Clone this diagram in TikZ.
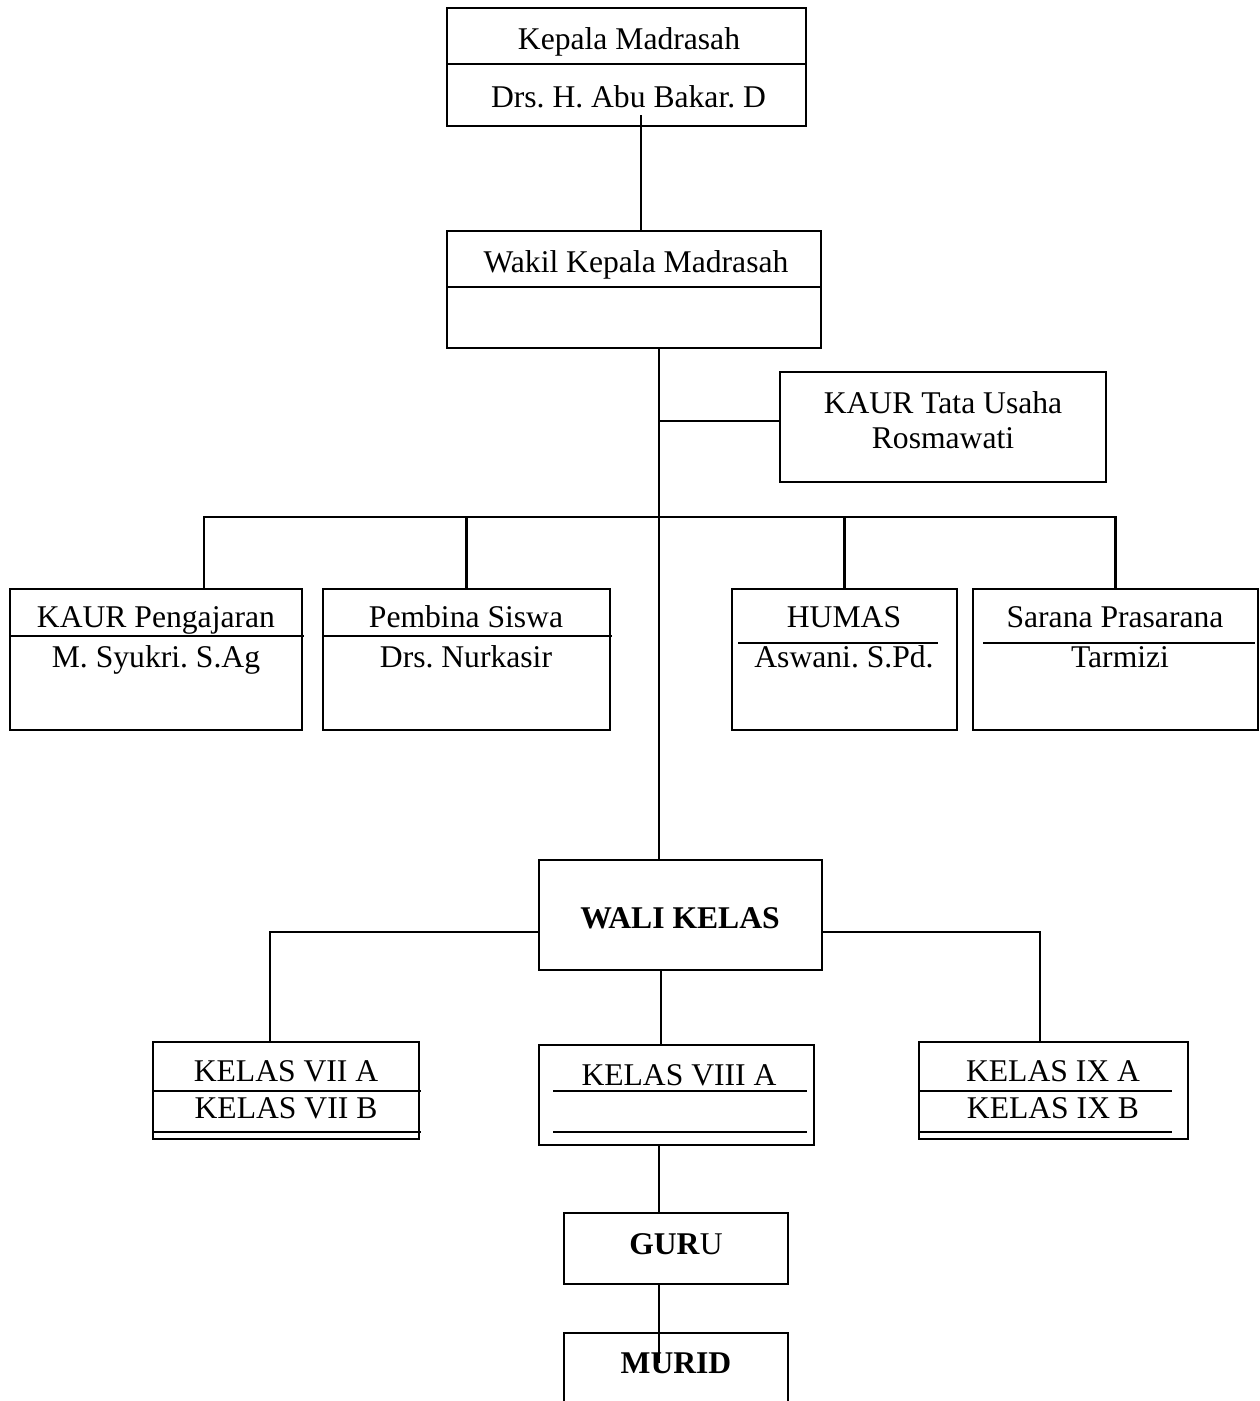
\documentclass[tikz,border=0pt]{standalone}
\usepackage{fontspec}
\setmainfont{Liberation Serif}
\frenchspacing
\usetikzlibrary{positioning, calc}
\tikzset{
  kotak/.style={draw, line width=1.2pt, inner sep=0pt, outer sep=0pt, rectangle},
  teks/.style={anchor=base, inner sep=0pt, font=\fontsize{18}{21}\selectfont},
  tebal/.style={teks, font=\fontsize{18}{21}\selectfont\bfseries},
  garis/.style={line width=1.2pt},
}
\begin{document}
\begin{tikzpicture}[x=0.02cm, y=-0.02cm]
  \useasboundingbox (0,0) rectangle (1259,1401);
  \coordinate (trunk) at (659,0);

  % kotak
  \node[kotak, minimum width=7.18cm, minimum height=2.36cm] (kepala) at (626.5,67) {};
  \node[kotak, minimum width=7.48cm, minimum height=2.34cm] (wakil) at (634,289.5) {};
  \node[kotak, minimum width=6.52cm, minimum height=2.2cm] (tu) at (943,427) {};
  \node[kotak, minimum width=5.84cm, minimum height=2.82cm] (ajar) at (156,659.5) {};
  \node[kotak, minimum width=5.74cm, minimum height=2.82cm] (bina) at (466.5,659.5) {};
  \node[kotak, minimum width=4.5cm, minimum height=2.82cm] (humas) at (844.5,659.5) {};
  \node[kotak, minimum width=5.7cm, minimum height=2.82cm] (sarpras) at (1115.5,659.5) {};
  \node[kotak, minimum width=5.66cm, minimum height=2.2cm] (wali) at (680.5,915) {};
  \node[kotak, minimum width=5.32cm, minimum height=1.94cm] (k7) at (286,1090.5) {};
  \node[kotak, minimum width=5.5cm, minimum height=2cm] (k8) at (676.5,1095) {};
  \node[kotak, minimum width=5.38cm, minimum height=1.94cm] (k9) at (1053.5,1090.5) {};
  \node[kotak, minimum width=4.48cm, minimum height=1.42cm] (guru) at (676,1248.5) {};
  \node[kotak, minimum width=4.48cm, minimum height=1.74cm] (muridkotak) at (676,1376.5) {};

  % garis pembagi
  \draw[garis] ([yshift=-1.12cm]kepala.north west) -- ([yshift=-1.12cm]kepala.north east);
  \draw[garis] ([yshift=-1.12cm]wakil.north west) -- ([yshift=-1.12cm]wakil.north east);
  \draw[garis] ([yshift=-0.94cm]ajar.north west) -- ([xshift=0.04cm, yshift=-0.94cm]ajar.north east);
  \draw[garis] ([yshift=-0.94cm]bina.north west) -- ([xshift=0.04cm, yshift=-0.94cm]bina.north east);
  \draw[garis] ([xshift=0.12cm, yshift=-1.08cm]humas.north west) -- ([xshift=-0.38cm, yshift=-1.08cm]humas.north east);
  \draw[garis] ([xshift=0.2cm, yshift=-1.08cm]sarpras.north west) -- ([xshift=-0.06cm, yshift=-1.08cm]sarpras.north east);
  \draw[garis] ([yshift=-0.98cm]k7.north west) -- ([xshift=0.04cm, yshift=-0.98cm]k7.north east);
  \draw[garis] ([yshift=0.14cm]k7.south west) -- ([xshift=0.04cm, yshift=0.14cm]k7.south east);
  \draw[garis] ([xshift=0.28cm, yshift=-0.92cm]k8.north west) -- ([xshift=-0.14cm, yshift=-0.92cm]k8.north east);
  \draw[garis] ([xshift=0.28cm, yshift=-1.74cm]k8.north west) -- ([xshift=-0.14cm, yshift=-1.74cm]k8.north east);
  \draw[garis] ([yshift=-0.98cm]k9.north west) -- ([xshift=-0.32cm, yshift=-0.98cm]k9.north east);
  \draw[garis] ([yshift=0.14cm]k9.south west) -- ([xshift=-0.32cm, yshift=0.14cm]k9.south east);

  % teks
  \node[teks] (tKepala) at (629,49) {Kepala Madrasah};
  \node[teks] (tAbu) at (628.5,107) {Drs. H. Abu Bakar. D};
  \node[teks] (tWakil) at (636,272) {Wakil Kepala Madrasah};
  \node[teks] (tTU) at (943,413) {KAUR Tata Usaha};
  \node[teks] (tRos) at (943,448) {Rosmawati};
  \node[teks] (tAjar) at (156,627) {KAUR Pengajaran};
  \node[teks] (tSyukri) at (156,667) {M. Syukri. S.Ag};
  \node[teks] (tBina) at (466,627) {Pembina Siswa};
  \node[teks] (tNur) at (466,667) {Drs. Nurkasir};
  \node[teks] (tHumas) at (844,627) {HUMAS};
  \node[teks] (tAswani) at (844,667) {Aswani. S.Pd.};
  \node[teks] (tSarpras) at (1115,627) {Sarana Prasarana};
  \node[teks] (tTarmizi) at (1120,667) {Tarmizi};
  \node[tebal] (tWali) at (680,928) {WALI KELAS};
  \node[teks] (t7a) at (286,1081) {KELAS VII A};
  \node[teks] (t7b) at (286,1118) {KELAS VII B};
  \node[teks] (t8a) at (679,1085) {KELAS VIII A};
  \node[teks] (t9a) at (1053,1081) {KELAS IX A};
  \node[teks] (t9b) at (1053,1118) {KELAS IX B};
  \node[teks] (tGuru) at (676,1254) {\textbf{GUR}U};
  \node[tebal] (murid) at (676,1373) {MURID};

  % penghubung
  \coordinate (sambung) at (641,115);
  \draw[garis] (sambung) -- (sambung |- wakil.north);
  \draw[garis] (trunk |- wakil.south) -- (trunk |- wali.north);
  \draw[garis] (trunk |- 0,421) -- (tu.west |- 0,421);
  \draw[garis] ([xshift=0.96cm]ajar.north) |- (sarpras.north |- 0,517) -- (sarpras.north);
  \draw[garis] (bina.north) -- (bina.north |- 0,517);
  \draw[garis] (humas.north) -- (humas.north |- 0,517);
  \draw[garis] ([yshift=-0.34cm]wali.west) -| ([xshift=-0.32cm]k7.north);
  \draw[garis] ([yshift=-0.34cm]wali.east) -| ([xshift=-0.27cm]k9.north);
  \draw[garis] ([xshift=-0.39cm]wali.south) -- ([xshift=-0.39cm]wali.south |- k8.north);
  \draw[garis] (trunk |- k8.south) -- (trunk |- guru.north);
  \draw[garis] (trunk |- guru.south) -- (trunk |- murid.center);
\end{tikzpicture}
\end{document}
